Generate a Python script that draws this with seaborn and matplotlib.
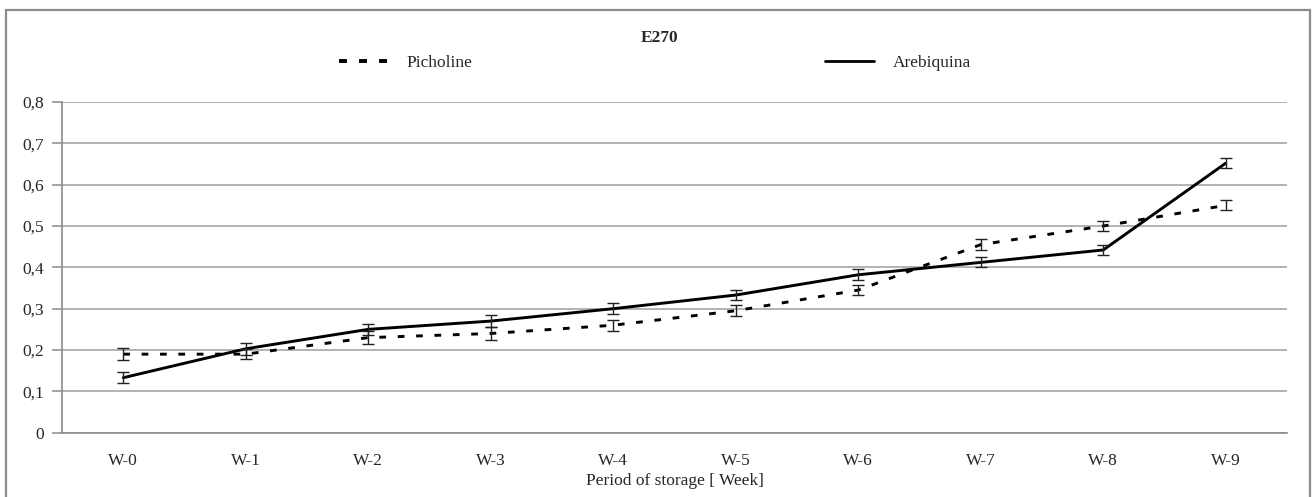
import matplotlib
matplotlib.use("Agg")
import matplotlib.pyplot as plt
import pandas as pd
import seaborn as sns
from matplotlib.patches import Rectangle

# Data
weeks = ['W-0', 'W-1', 'W-2', 'W-3', 'W-4', 'W-5', 'W-6', 'W-7', 'W-8', 'W-9']
picholine = [0.19, 0.19, 0.23, 0.24, 0.26, 0.295, 0.345, 0.455, 0.50, 0.55]
arebiquina = [0.133, 0.203, 0.25, 0.27, 0.30, 0.333, 0.382, 0.412, 0.442, 0.652]
picholine_err = [0.015, 0.012, 0.015, 0.015, 0.013, 0.013, 0.013, 0.014, 0.012, 0.012]
arebiquina_err = [0.013, 0.014, 0.013, 0.015, 0.014, 0.013, 0.013, 0.012, 0.012, 0.012]
y_ticks = [0, 0.1, 0.2, 0.3, 0.4, 0.5, 0.6, 0.7, 0.8]
y_labels = ['0', '0,1', '0,2', '0,3', '0,4', '0,5', '0,6', '0,7', '0,8']

df = pd.DataFrame({
    'week': weeks * 2,
    'value': picholine + arebiquina,
    'variety': ['Picholine'] * len(weeks) + ['Arebiquina'] * len(weeks),
})

sns.set_style('white')
plt.rcParams['font.family'] = ['Liberation Serif', 'DejaVu Serif']
fs = 12.5

fig = plt.figure(figsize=(13.12, 4.97), dpi=100)
ax = fig.add_axes([62 / 1312, 1 - 432.7 / 497, (1287 - 62) / 1312, (432.7 - 102) / 497])

sns.lineplot(data=df, x='week', y='value', hue='variety', style='variety',
             palette={'Picholine': 'black', 'Arebiquina': 'black'},
             dashes={'Picholine': (2.3, 4.0), 'Arebiquina': ''},
             linewidth=2.1, legend=False, ax=ax, sort=False)

# error bars
for vals, errs in [(picholine, picholine_err), (arebiquina, arebiquina_err)]:
    ax.errorbar(weeks, vals, yerr=errs, fmt='none', ecolor='#222222',
                elinewidth=1.0, capsize=4.5, capthick=1.0, zorder=3)

ax.set_xlim(-0.5, len(weeks) - 0.5)
ax.set_ylim(0, 0.8)
ax.set_yticks(y_ticks)
ax.set_yticklabels(y_labels)
ax.yaxis.grid(True, color='#a6a6a6', linewidth=1.2)
ax.set_axisbelow(True)
for s in ['top', 'right']:
    ax.spines[s].set_visible(False)
ax.spines['left'].set_color('#8c8c8c')
ax.spines['bottom'].set_color('#8c8c8c')
ax.spines['left'].set_linewidth(1.2)
ax.spines['bottom'].set_linewidth(1.2)
ax.tick_params(axis='y', left=True, length=7, width=1.1, color='#8c8c8c',
               labelsize=fs, pad=6)
ax.tick_params(axis='x', bottom=False, labelsize=fs, pad=11)
ax.set_xlabel('Period of storage [ Week]', fontsize=fs, labelpad=3)
ax.set_ylabel('')

# title and legend
fig.text(0.503, 1 - 38 / 497, 'E270', ha='center', va='center',
         fontsize=fs, fontweight='bold')
h1, = ax.plot([], [], color='black', lw=2.8, dashes=(2.05, 3.1))
h2, = ax.plot([], [], color='black', lw=2.0)
fig.legend([h1, h2], ['Picholine', 'Arebiquina'], ncol=2, loc='center',
           bbox_to_anchor=(655 / 1312, 1 - 63 / 497), frameon=False,
           fontsize=fs, handlelength=2.8, handletextpad=1.1,
           columnspacing=20.3)

# outer chart frame
fig.patches.append(Rectangle((6 / 1312, -0.02), 1304 / 1312, 1.02 - 10 / 497,
                             transform=fig.transFigure, fill=False,
                             edgecolor='#8c8c8c', linewidth=1.6))

fig.savefig('out.png', dpi=100)
